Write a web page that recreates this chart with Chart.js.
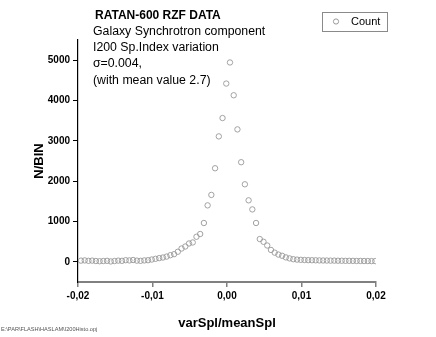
<!DOCTYPE html>
<html>
<head>
<meta charset="utf-8">
<script src="https://cdn.jsdelivr.net/npm/chart.js@4"></script>
<style>
  html, body { margin: 0; padding: 0; background: #fff; }
  #wrap { width: 436px; height: 337px; position: relative; }
</style>
</head>
<body>
<div id="wrap"><canvas id="histChart" width="436" height="337"></canvas></div>
<script>
// bin centres (varSpl/meanSpl) and counts
const binCenters = [
  -0.0196, -0.0191, -0.0186, -0.0181, -0.0176, -0.0171, -0.0166, -0.0161, -0.0156, -0.0151,
  -0.0146, -0.0141, -0.0136, -0.0131, -0.0126, -0.0121, -0.0116, -0.0111, -0.0106, -0.0101,
  -0.0096, -0.0091, -0.0086, -0.0081, -0.0076, -0.0071, -0.0066, -0.0061, -0.0056, -0.0051,
  -0.0046, -0.0041, -0.0036, -0.0031, -0.0026, -0.0021, -0.0016, -0.0011, -0.0006, -0.0001,
  0.0004, 0.0009, 0.0014, 0.0019, 0.0024, 0.0029, 0.0034, 0.0039, 0.0044, 0.0049,
  0.0054, 0.0059, 0.0064, 0.0069, 0.0074, 0.0079, 0.0084, 0.0089, 0.0094, 0.0099,
  0.0104, 0.0109, 0.0114, 0.0119, 0.0124, 0.0129, 0.0134, 0.0139, 0.0144, 0.0149,
  0.0154, 0.0159, 0.0164, 0.0169, 0.0174, 0.0179, 0.0184, 0.0189, 0.0194, 0.0199
];
const counts = [
  30, 35, 25, 30, 20, 15, 20, 25, 10, 20,
  30, 25, 40, 35, 45, 30, 25, 35, 40, 57,
  75, 92, 107, 130, 165, 190, 250, 330, 380, 455,
  480, 622, 690, 963, 1400, 1659, 2320, 3110, 3565, 4420,
  4943, 4130, 3284, 2470, 1923, 1525, 1300, 963, 565, 497,
  405, 295, 228, 180, 150, 110, 85, 65, 55, 50,
  45, 42, 40, 38, 35, 33, 32, 30, 30, 28,
  27, 25, 25, 24, 22, 22, 20, 20, 18, 18
];
const xTicks = [-0.02, -0.01, 0, 0.01, 0.02];
const yTicks = [0, 1000, 2000, 3000, 4000, 5000];
const noteLines = [
  "Galaxy Synchrotron component",
  "I200 Sp.Index variation",
  "\u03c3=0.004,",
  "(with mean value 2.7)"
];

const points = binCenters.map((x, i) => ({ x: x, y: counts[i] }));

// text block, legend box and file path drawn on top
const overlay = {
  id: "overlay",
  afterDraw(chart) {
    const c = chart.ctx;
    c.save();
    c.fillStyle = "#000";
    c.textBaseline = "middle";
    c.textAlign = "left";
    c.font = "bold 12px Arial, 'Liberation Sans'";
    c.fillText("RATAN-600 RZF DATA", 95, 16);
    c.font = "12.3px Arial, 'Liberation Sans'";
    const ys = [32, 48, 64, 81];
    noteLines.forEach((t, i) => c.fillText(t, 93, ys[i]));

    // legend
    c.strokeStyle = "#8a8a8a";
    c.lineWidth = 1;
    c.strokeRect(322.5, 12.5, 65, 19);
    c.beginPath();
    c.arc(336, 21.5, 2.6, 0, Math.PI * 2);
    c.strokeStyle = "#999";
    c.stroke();
    c.font = "11px Arial, 'Liberation Sans'";
    c.fillText("Count", 351, 22);

    c.font = "5.6px Arial, 'Liberation Sans'";
    c.fillStyle = "#555";
    c.fillText("E:\\PAR\\FLASH\\HASLAM\\I200Histo.opj", 1, 329);
    c.restore();
  }
};

new Chart(document.getElementById("histChart"), {
  type: "scatter",
  data: {
    datasets: [
      {
        label: "Count",
        data: points,
        pointStyle: "circle",
        pointRadius: 2.7,
        pointBorderWidth: 0.9,
        borderColor: "#999",
        backgroundColor: "rgba(255,255,255,0)"
      }
    ]
  },
  options: {
    responsive: false,
    animation: false,
    layout: { padding: { top: 40, right: 60, left: 0, bottom: 0 } },
    plugins: {
      legend: { display: false },
      tooltip: { enabled: false }
    },
    scales: {
      x: {
        type: "linear",
        min: -0.02,
        max: 0.02,
        afterFit: (s) => { s.height = 55; },
        afterBuildTicks: (s) => { s.ticks = xTicks.map((v) => ({ value: v })); },
        border: { color: "#808080", width: 2 },
        grid: { drawOnChartArea: false, drawTicks: true, tickLength: 5, color: "#808080", lineWidth: 1.5 },
        ticks: {
          color: "#000",
          padding: 3,
          font: { family: "Arial, 'Liberation Sans'", size: 10, weight: "bold" },
          callback: (v) => v.toFixed(2).replace(".", ",")
        },
        title: {
          display: true,
          text: "varSpl/meanSpl",
          color: "#000",
          padding: { top: 6, bottom: 6 },
          font: { family: "Arial, 'Liberation Sans'", size: 13, weight: "bold" }
        }
      },
      y: {
        min: -500,
        max: 5500,
        afterFit: (s) => { s.width = 78; },
        afterBuildTicks: (s) => { s.ticks = yTicks.map((v) => ({ value: v })); },
        border: { color: "#000", width: 1.2 },
        grid: { drawOnChartArea: false, drawTicks: true, tickLength: 5, color: "#000", lineWidth: 1 },
        ticks: {
          color: "#000",
          padding: 3,
          font: { family: "Arial, 'Liberation Sans'", size: 10, weight: "bold" },
          callback: (v) => String(v)
        },
        title: {
          display: true,
          text: "N/BIN",
          color: "#000",
          padding: { top: 32, bottom: 0 },
          font: { family: "Arial, 'Liberation Sans'", size: 13, weight: "bold" }
        }
      }
    }
  },
  plugins: [overlay]
});
</script>
</body>
</html>
